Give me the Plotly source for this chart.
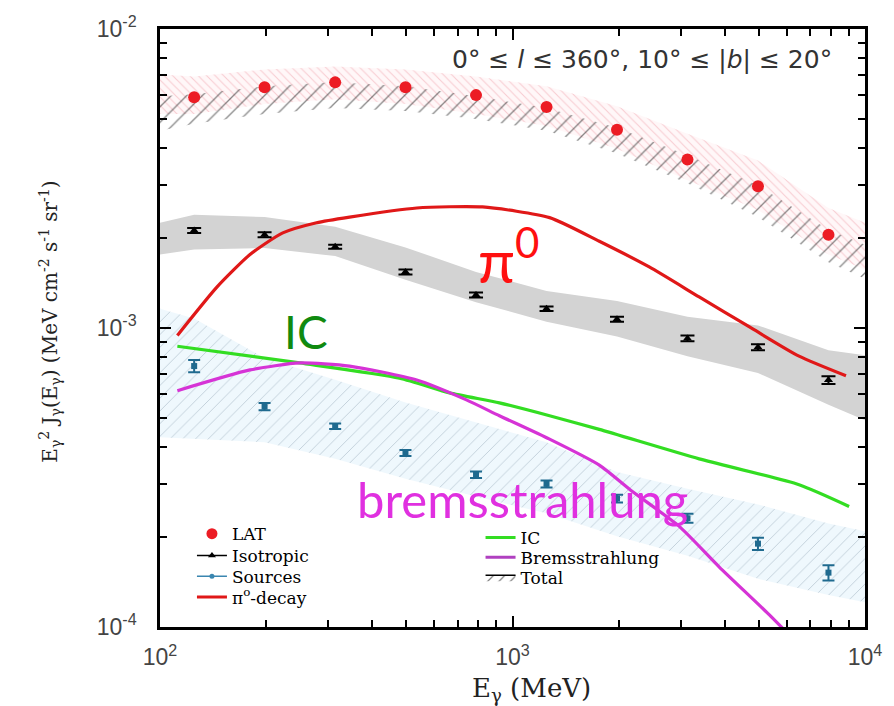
import plotly.graph_objects as go

# ---------------- data ----------------
energy_bins = [125, 198, 314, 497, 788, 1249, 1979, 3136, 4970, 7877]
lat_flux = [5.91e-3, 6.38e-3, 6.63e-3, 6.38e-3, 6.01e-3, 5.48e-3, 4.60e-3, 3.66e-3, 2.98e-3, 2.05e-3]
iso_flux = [2.12e-3, 2.05e-3, 1.87e-3, 1.54e-3, 1.29e-3, 1.16e-3, 1.07e-3, 9.23e-4, 8.62e-4, 6.70e-4]
iso_err = [4e-5, 4e-5, 3e-5, 3e-5, 2.5e-5, 2e-5, 2e-5, 2e-5, 2e-5, 2e-5]
src_flux = [7.46e-4, 5.46e-4, 4.69e-4, 3.82e-4, 3.23e-4, 3.01e-4, 2.69e-4, 2.31e-4, 1.90e-4, 1.52e-4]
src_err = [3.5e-5, 1.5e-5, 1.0e-5, 9e-6, 8e-6, 8e-6, 8e-6, 8e-6, 9e-6, 9e-6]

band_E = [100, 125, 198, 314, 497, 788, 1249, 1979, 3136, 4970, 7877, 10000]
lat_band_hi = [7.05e-3, 6.94e-3, 7.32e-3, 7.49e-3, 7.32e-3, 6.94e-3, 6.43e-3, 5.52e-3, 4.46e-3, 3.63e-3, 2.52e-3, 2.25e-3]
lat_band_lo = [5.20e-3, 5.20e-3, 5.61e-3, 5.82e-3, 5.61e-3, 5.20e-3, 4.74e-3, 3.98e-3, 3.12e-3, 2.48e-3, 1.76e-3, 1.57e-3]
total_hi = [5.96e-3, 6.05e-3, 6.43e-3, 6.63e-3, 6.43e-3, 5.96e-3, 5.44e-3, 4.67e-3, 3.78e-3, 3.00e-3, 2.13e-3, 1.90e-3]
total_lo = [4.57e-3, 4.82e-3, 5.20e-3, 5.44e-3, 5.32e-3, 5.00e-3, 4.57e-3, 3.83e-3, 3.05e-3, 2.35e-3, 1.66e-3, 1.46e-3]
iso_band_hi = [2.25e-3, 2.39e-3, 2.35e-3, 2.18e-3, 1.86e-3, 1.54e-3, 1.33e-3, 1.23e-3, 1.09e-3, 1.02e-3, 8.43e-4, 8.11e-4]
iso_band_lo = [1.76e-3, 1.83e-3, 1.85e-3, 1.74e-3, 1.45e-3, 1.22e-3, 1.05e-3, 9.37e-4, 8.05e-4, 7.07e-4, 5.54e-4, 4.91e-4]
src_band_hi = [1.16e-3, 1.075e-3, 7.93e-4, 6.71e-4, 5.63e-4, 4.83e-4, 4.15e-4, 3.30e-4, 2.90e-4, 2.57e-4, 2.22e-4, 2.09e-4]
src_band_lo = [4.31e-4, 4.25e-4, 4.15e-4, 3.65e-4, 3.13e-4, 2.73e-4, 2.40e-4, 2.01e-4, 1.73e-4, 1.45e-4, 1.28e-4, 1.21e-4]

pi0_E = [112, 145, 180, 223, 278, 345, 535, 822, 1274, 1763, 2443, 3385, 4689, 6500, 8832]
pi0_flux = [9.44e-4, 1.37e-3, 1.76e-3, 2.08e-3, 2.25e-3, 2.35e-3, 2.52e-3, 2.54e-3, 2.34e-3, 1.95e-3, 1.60e-3, 1.27e-3, 1.01e-3, 8.05e-4, 6.92e-4]
ic_E = [112, 249, 478, 663, 918, 1274, 1763, 3385, 6500, 9014]
ic_flux = [8.69e-4, 7.64e-4, 6.80e-4, 6.07e-4, 5.62e-4, 5.09e-4, 4.58e-4, 3.65e-4, 2.99e-4, 2.53e-4]
brems_E = [112, 180, 249, 345, 535, 740, 918, 1274, 1763, 2188, 2972, 3855, 5346, 6500]
brems_flux = [6.17e-4, 7.24e-4, 7.64e-4, 7.46e-4, 6.70e-4, 5.75e-4, 5.09e-4, 4.25e-4, 3.48e-4, 2.84e-4, 2.17e-4, 1.59e-4, 1.10e-4, 8.7e-5]

x_major = [100, 1000, 10000]
x_major_text = ["10<sup>2</sup>", "10<sup>3</sup>", "10<sup>4</sup>"]
y_major = [1e-4, 1e-3, 1e-2]
y_major_text = ["10<sup>-4</sup>", "10<sup>-3</sup>", "10<sup>-2</sup>"]
x_minor = [m * d for d in (100, 1000) for m in range(2, 10)]
y_minor = [m * d for d in (1e-4, 1e-3) for m in range(2, 10)]

SERIF = "DejaVu Serif, Liberation Serif, serif"

# ---------------- figure ----------------
fig = go.Figure()

def band(E, hi, lo, **kw):
    return go.Scatter(x=list(E) + list(E)[::-1], y=list(hi) + list(lo)[::-1],
                      fill="toself", mode="lines", hoverinfo="skip", **kw)

fig.add_trace(band(band_E, lat_band_hi, lat_band_lo, line=dict(width=0),
                   fillcolor="rgba(255,240,242,0.5)",
                   fillpattern=dict(shape="\\", fgcolor="#f0a0aa", size=6, solidity=0.18, fillmode="overlay"),
                   showlegend=False))
fig.add_trace(band(band_E, total_hi, total_lo, line=dict(width=0),
                   fillcolor="rgba(0,0,0,0)",
                   fillpattern=dict(shape="/", fgcolor="#111111", size=11, solidity=0.12, fillmode="overlay"),
                   showlegend=False))
fig.add_trace(band(band_E, iso_band_hi, iso_band_lo, line=dict(width=0),
                   fillcolor="#d3d3d3", showlegend=False))
fig.add_trace(band(band_E, src_band_hi, src_band_lo, line=dict(width=0),
                   fillcolor="rgba(228,244,251,0.6)",
                   fillpattern=dict(shape="/", fgcolor="#90a4b2", size=9, solidity=0.1, fillmode="overlay"),
                   showlegend=False))

fig.add_trace(go.Scatter(x=ic_E, y=ic_flux, mode="lines",
                         line=dict(color="#33dd22", width=3.2, shape="spline", smoothing=0.6), showlegend=False))
fig.add_trace(go.Scatter(x=brems_E, y=brems_flux, mode="lines",
                         line=dict(color="#d633d6", width=3.2, shape="spline", smoothing=0.6), showlegend=False))
fig.add_trace(go.Scatter(x=pi0_E, y=pi0_flux, mode="lines",
                         line=dict(color="#e01818", width=3.2, shape="spline", smoothing=0.6), showlegend=False))

fig.add_trace(go.Scatter(x=energy_bins, y=iso_flux, mode="markers",
                         marker=dict(symbol="triangle-up", size=8, color="black"),
                         error_y=dict(type="data", array=iso_err, color="black", thickness=2, width=7),
                         showlegend=False))
fig.add_trace(go.Scatter(x=energy_bins, y=src_flux, mode="markers",
                         marker=dict(symbol="square", size=6, color="#1f6a8f"),
                         error_y=dict(type="data", array=src_err, color="#1f6a8f", thickness=2, width=6),
                         showlegend=False))
fig.add_trace(go.Scatter(x=energy_bins, y=lat_flux, mode="markers",
                         marker=dict(symbol="circle", size=12, color="#ec1c24"),
                         showlegend=False))

# legend entries (one legend box per row so rows can be spaced like the reference)
fig.add_trace(go.Scatter(x=[None], y=[None], mode="markers", name="LAT",
                         marker=dict(symbol="circle", size=11, color="#ec1c24"), legend="legend"))
fig.add_trace(go.Scatter(x=[None], y=[None], mode="lines+markers", name="Isotropic",
                         line=dict(color="black", width=1.5),
                         marker=dict(symbol="triangle-up", size=7, color="black"), legend="legend2"))
fig.add_trace(go.Scatter(x=[None], y=[None], mode="lines+markers", name="Sources",
                         line=dict(color="#3a86b0", width=1.5),
                         marker=dict(symbol="circle", size=5, color="#3a86b0"), legend="legend3"))
fig.add_trace(go.Scatter(x=[None], y=[None], mode="lines", name="π<sup>o</sup>-decay",
                         line=dict(color="#e01818", width=3), legend="legend4"))
fig.add_trace(go.Scatter(x=[None], y=[None], mode="lines", name="IC",
                         line=dict(color="#33dd22", width=3), legend="legend5"))
fig.add_trace(go.Scatter(x=[None], y=[None], mode="lines", name="Bremsstrahlung",
                         line=dict(color="#b040c0", width=3), legend="legend6"))
fig.add_trace(go.Scatter(x=[None], y=[None], fill="toself", mode="lines", name="Total",
                         line=dict(color="black", width=1.5), fillcolor="white",
                         fillpattern=dict(shape="/", fgcolor="black", size=8, solidity=0.15, fillmode="overlay"),
                         legend="legend7"))

axis_common = dict(type="log", showline=True, linecolor="black", linewidth=2.5, mirror="allticks",
                   ticks="inside", ticklen=11, tickwidth=2, tickcolor="black", showgrid=False,
                   zeroline=False, tickfont=dict(family="Liberation Sans", size=23, color="#444"))

fig.update_xaxes(range=[2, 4], tickmode="array", tickvals=x_major, ticktext=x_major_text,
                 minor=dict(tickmode="array", tickvals=x_minor, ticks="inside", ticklen=7, tickwidth=2,
                            tickcolor="black"),
                 ticklabelstandoff=8, **axis_common)
fig.update_yaxes(range=[-4, -2], tickmode="array", tickvals=y_major, ticktext=y_major_text,
                 minor=dict(tickmode="array", tickvals=y_minor, ticks="inside", ticklen=7, tickwidth=2,
                            tickcolor="black"),
                 ticklabelstandoff=16, **axis_common)

legend_font = dict(family=SERIF, size=17, color="black")

def leg(xpx, ypx):
    return dict(x=(xpx - 160) / 706, y=(627 - ypx) / 605, xanchor="left", yanchor="middle",
                bgcolor="rgba(0,0,0,0)", font=legend_font, itemwidth=30,
                borderwidth=0)

fig.update_layout(
    width=894, height=706,
    margin=dict(l=160, r=28, t=22, b=79),
    plot_bgcolor="white", paper_bgcolor="white",
    legend=leg(192, 533), legend2=leg(192, 555), legend3=leg(192, 576), legend4=leg(192, 597),
    legend5=leg(481, 537), legend6=leg(481, 557), legend7=leg(481, 577),
)

annos = [
    dict(text="0° ≤ <i>l</i> ≤ 360°, 10° ≤ |<i>b</i>| ≤ 20°", x=0.956, y=0.949, xanchor="right", yanchor="middle",
         font=dict(family="DejaVu Sans", size=25, color="#333")),
    dict(text="π<sup>0</sup>", x=(509 - 160) / 706, y=(627 - 252) / 605, xanchor="center", yanchor="middle",
         font=dict(family="Lato", size=60, color="#ff1010")),
    dict(text="IC", x=(306 - 160) / 706, y=(627 - 328) / 605, xanchor="center", yanchor="middle",
         font=dict(family="Lato", size=46, color="#108a10")),
    dict(text="bremsstrahlung", x=(523 - 160) / 706, y=(627 - 497) / 605, xanchor="center", yanchor="middle",
         borderpad=0, font=dict(family="Lato", size=49, color="#e030e0")),
    dict(text="E<sub>γ</sub> (MeV)", x=(532 - 160) / 706, y=(627 - 690) / 605, xanchor="center", yanchor="middle",
         font=dict(family=SERIF, size=26, color="#222")),
    dict(text="E<sub>γ</sub><sup>2</sup> J<sub>γ</sub>(E<sub>γ</sub>) (MeV cm<sup>-2</sup> s<sup>-1</sup> sr<sup>-1</sup>)",
         x=(50 - 160) / 706, y=(627 - 318) / 605, xanchor="center", yanchor="middle", textangle=-90,
         font=dict(family=SERIF, size=20, color="#222")),
]
for a in annos:
    fig.add_annotation(xref="paper", yref="paper", showarrow=False, **a)

fig.write_html("out.html")
